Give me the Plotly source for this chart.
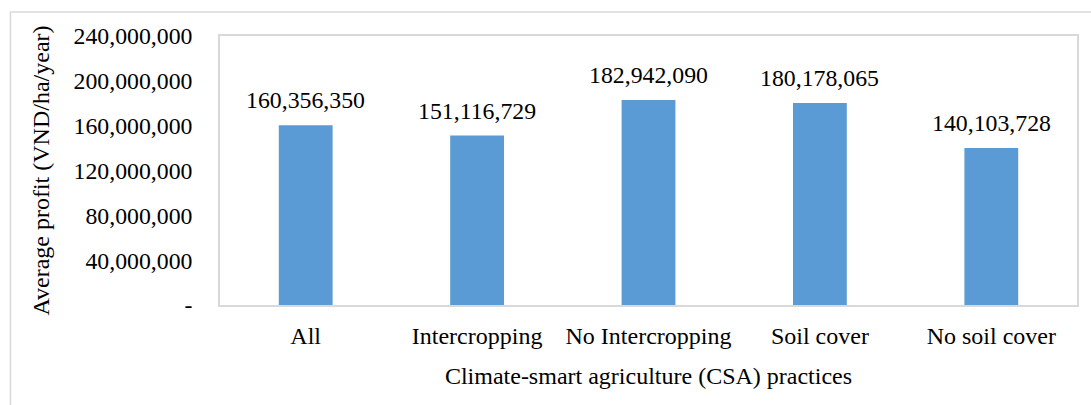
import plotly.graph_objects as go

# CSA practice groups and their average profit (VND/ha/year)
categories = ["All", "Intercropping", "No Intercropping", "Soil cover", "No soil cover"]
profit = [160356350, 151116729, 182942090, 180178065, 140103728]

y_ticks = [0, 40000000, 80000000, 120000000, 160000000, 200000000, 240000000]
y_tick_text = ["-", "40,000,000", "80,000,000", "120,000,000", "160,000,000",
               "200,000,000", "240,000,000"]

FONT = "Liberation Serif, Times New Roman, serif"
SIZE = 24
NUM_SIZE = 23.8

fig = go.Figure(
    go.Bar(
        x=categories,
        y=profit,
        marker=dict(color="#5B9BD5", line=dict(width=0)),
        cliponaxis=False,
    )
)

# value labels above each bar
for cat, v in zip(categories, profit):
    fig.add_annotation(
        x=cat,
        y=v,
        text=f"{v:,}",
        showarrow=False,
        yanchor="middle",
        yshift=25,
        font=dict(family=FONT, size=NUM_SIZE, color="#000000"),
    )

fig.update_layout(
    width=1091,
    height=405,
    margin=dict(l=220, r=12, t=36, b=100),
    paper_bgcolor="white",
    plot_bgcolor="white",
    bargap=0.686,
    showlegend=False,
    font=dict(family=FONT, size=SIZE, color="#000000"),
    xaxis=dict(
        showline=True,
        mirror=True,
        linecolor="#d9d9d9",
        linewidth=1.5,
        showgrid=False,
        ticks="",
        ticklabelstandoff=8,
        tickfont=dict(family=FONT, size=SIZE),
        title=dict(text="Climate-smart agriculture (CSA) practices",
                   font=dict(family=FONT, size=SIZE), standoff=20),
    ),
    yaxis=dict(
        range=[0, 240000000],
        tickvals=y_ticks,
        ticktext=y_tick_text,
        showline=True,
        mirror=True,
        linecolor="#d9d9d9",
        linewidth=1.5,
        showgrid=False,
        zeroline=False,
        ticks="",
        ticklabelstandoff=21,
        tickfont=dict(family=FONT, size=NUM_SIZE),
        title=dict(text="Average profit (VND/ha/year)",
                   font=dict(family=FONT, size=SIZE), standoff=17),
    ),
    shapes=[
        dict(
            type="rect",
            xref="paper",
            yref="paper",
            x0=-0.2445,
            x1=1.2,
            y0=-0.6,
            y1=1.0892,
            line=dict(color="#d9d9d9", width=1.5),
            fillcolor="rgba(0,0,0,0)",
            layer="below",
        )
    ],
)

fig.write_html("out.html")
